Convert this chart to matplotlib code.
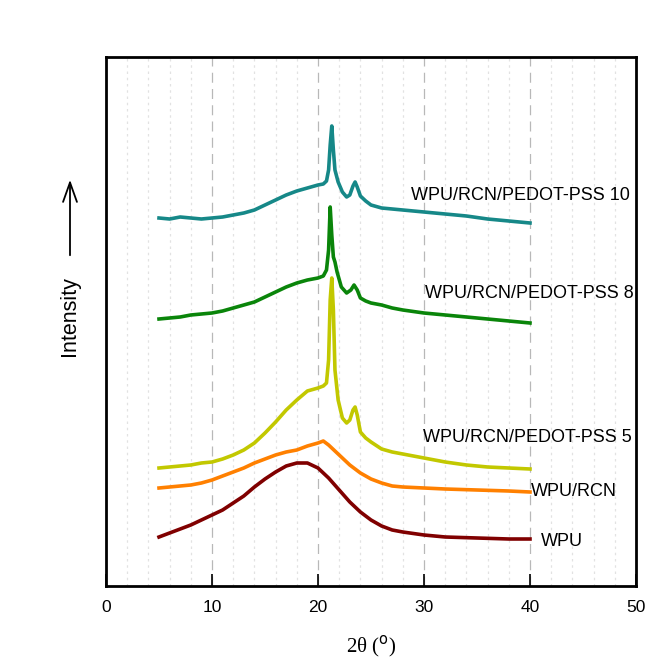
import matplotlib
matplotlib.use("Agg")
import matplotlib.pyplot as plt
from matplotlib.patches import FancyArrowPatch

# ---- data (intensity, arbitrary units) ----
x_pss10 = [5, 6, 7, 8, 9, 10, 11, 12, 13, 14, 15, 16, 17, 18, 19, 20, 20.5, 20.8, 21.0, 21.15, 21.3,
           21.45, 21.6, 21.9, 22.3, 22.7, 23.0, 23.3, 23.5, 23.7, 24.0, 24.5, 25, 26, 27, 28, 30, 32, 34, 36, 38, 40]
y_pss10 = [368, 367, 369, 368, 367, 368, 369, 371, 373, 376, 381, 386, 391, 395, 398, 401, 402, 405, 416, 441, 460,
           436, 416, 404, 394, 389, 391, 400, 404, 399, 390, 385, 381, 378, 377, 376, 374, 372, 370, 367, 365, 363]

x_pss8 = [5, 6, 7, 8, 9, 10, 11, 12, 13, 14, 15, 16, 17, 18, 19, 20, 20.5, 20.8, 21.0, 21.15, 21.3,
          21.45, 21.6, 21.8, 22.2, 22.7, 23.1, 23.4, 23.7, 24.0, 24.5, 25, 26, 27, 28, 30, 32, 34, 36, 38, 40]
y_pss8 = [267, 268, 269, 271, 272, 273, 275, 278, 281, 284, 289, 294, 299, 303, 306, 308, 310, 316, 336, 379, 351,
          329, 324, 314, 299, 293, 296, 301, 296, 288, 285, 283, 281, 278, 276, 273, 271, 269, 267, 265, 263]

x_pss5 = [5, 6, 7, 8, 9, 10, 11, 12, 13, 14, 15, 16, 17, 18, 19, 20, 20.5, 20.8, 21.0, 21.15, 21.3,
          21.45, 21.6, 21.9, 22.3, 22.7, 23.0, 23.3, 23.5, 23.7, 24.0, 24.5, 25, 26, 27, 28, 30, 32, 34, 36, 38, 40]
y_pss5 = [118, 119, 120, 121, 123, 124, 127, 131, 136, 143, 153, 164, 176, 186, 195, 198, 200, 203, 226, 286, 308,
          276, 216, 186, 168, 163, 166, 176, 179, 171, 154, 148, 144, 137, 134, 132, 128, 124, 121, 119, 118, 117]

x_rcn = [5, 6, 7, 8, 9, 10, 11, 12, 13, 14, 15, 16, 17, 18, 19, 20, 20.5, 21, 22, 23, 24, 25, 26, 27, 28, 30, 32, 35, 38, 40]
y_rcn = [98, 99, 100, 101, 103, 106, 110, 114, 118, 123, 127, 131, 134, 136, 140, 143, 145, 141, 131, 121, 113, 107,
         103, 100, 99, 98, 97, 96, 95, 94]

x_wpu = [5, 6, 7, 8, 9, 10, 11, 12, 13, 14, 15, 16, 17, 18, 19, 20, 21, 22, 23, 24, 25, 26, 27, 28, 30, 32, 35, 38, 40]
y_wpu = [49, 53, 57, 61, 66, 71, 76, 83, 90, 99, 107, 114, 120, 123, 123, 118, 108, 96, 84, 74, 66, 60, 56, 54, 51,
         49, 48, 47, 47]

labels = ["WPU/RCN/PEDOT-PSS 10", "WPU/RCN/PEDOT-PSS 8", "WPU/RCN/PEDOT-PSS 5", "WPU/RCN", "WPU"]
label_x = [28.8, 30.05, 29.9, 40.1, 41.0]
label_y = [390, 292, 148, 94, 44]
colors = ["#168888", "#0a850a", "#c2c800", "#ff8000", "#800000"]

xticks = [0, 10, 20, 30, 40, 50]

# ---- figure ----
fig = plt.figure(figsize=(6.66, 6.68), dpi=100)
ax = fig.add_axes([106/666, 82/668, 530/666, 529/668])

series = [(x_pss10, y_pss10), (x_pss8, y_pss8), (x_pss5, y_pss5), (x_rcn, y_rcn), (x_wpu, y_wpu)]
for (xs, ys), c in zip(series, colors):
    ax.plot(xs, ys, color=c, lw=2.6, solid_joinstyle="round")

for lab, lx, ly in zip(labels, label_x, label_y):
    ax.text(lx, ly, lab, fontsize=13, family="Liberation Sans", va="center", ha="left", color="black")

ax.set_xlim(0, 50)
ax.set_ylim(0, 529)
ax.set_xticks(xticks)
ax.set_xticklabels([str(t) for t in xticks], family="Liberation Sans", fontsize=12.5)
ax.set_yticks([])
ax.tick_params(axis="x", direction="in", length=9, width=1.2, pad=10, top=False)

# grid
for gx in range(2, 50, 2):
    if gx % 10 == 0:
        ax.axvline(gx, color="#b8b8b8", lw=0.9, ls=(0, (8, 5)), zorder=0)
    else:
        ax.axvline(gx, color="#e2e2e2", lw=0.9, ls=(0, (2, 3)), zorder=0)

for s in ax.spines.values():
    s.set_linewidth(2)

ax.set_xlabel("2θ ($^{\\rm o}$)", family="Liberation Serif", fontsize=15, labelpad=14)

fig.text(69/666, 1 - 316/668, "Intensity", rotation=90, ha="center", va="center",
         family="Liberation Sans", fontsize=15.5)
arr = FancyArrowPatch((70/666, 1 - 258/668), (70/666, 1 - 177/668), transform=fig.transFigure,
                      arrowstyle="->,head_length=14,head_width=5", lw=1.3, color="black",
                      mutation_scale=1)
fig.add_artist(arr)

fig.savefig("out.png", dpi=100)
